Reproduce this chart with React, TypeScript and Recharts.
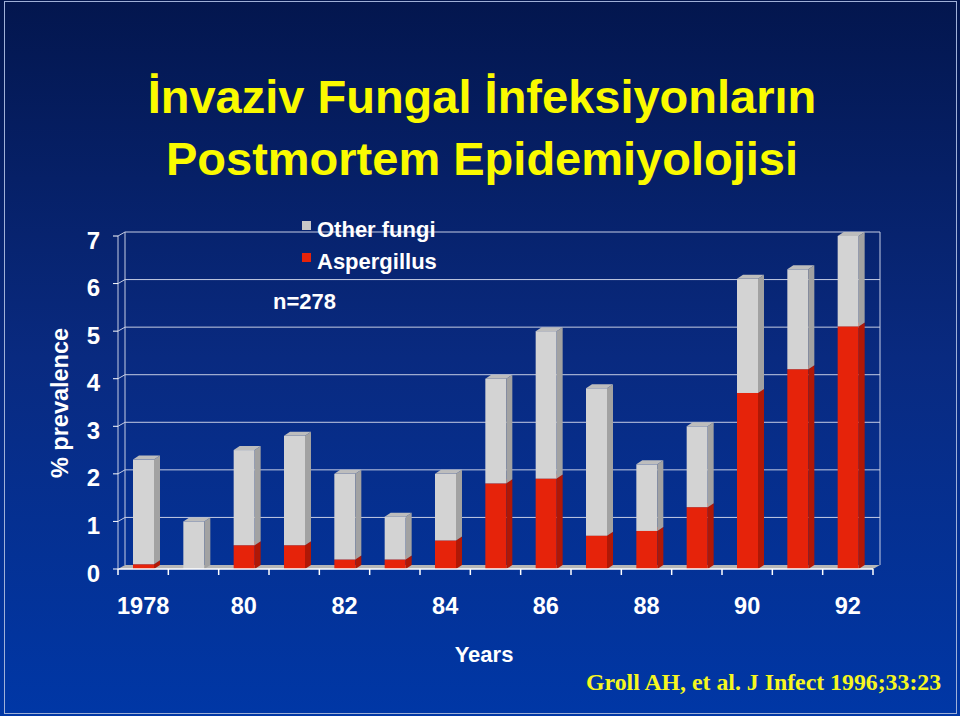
import { BarChart, Bar, XAxis, YAxis, CartesianGrid, Legend } from "recharts";

const years = ["1978", "79", "80", "81", "82", "83", "84", "85", "86", "87", "88", "89", "90", "91", "92"];
const aspergillus = [0.1, 0, 0.5, 0.5, 0.2, 0.2, 0.6, 1.8, 1.9, 0.7, 0.8, 1.3, 3.7, 4.2, 5.1];
const otherFungi = [2.2, 1.0, 2.0, 2.3, 1.8, 0.9, 1.4, 2.2, 3.1, 3.1, 1.4, 1.7, 2.4, 2.1, 1.9];
const yTicks = [0, 1, 2, 3, 4, 5, 6, 7];

const data = years.map((year, i) => ({
  year,
  aspergillus: aspergillus[i],
  other: otherFungi[i],
}));

const SANS = "'Liberation Sans', Arial, Helvetica, sans-serif";
const SERIF = "'Liberation Serif', 'Times New Roman', serif";
const LINE = "#c6cde4";

// depth of the fake 3d walls / bars
const DX = 7;
const DY = 4;

type Colors = { front: string; side: string; top: string };
const red: Colors = { front: "#e6230a", side: "#b01806", top: "#c81d08" };
const grey: Colors = { front: "#d3d3d3", side: "#a2a2a2", top: "#bdbdbd" };

function Bar3D(props: any) {
  const { x, y, width, height, colors } = props;
  if (!height || height <= 0) return null;
  const d = 6;
  return (
    <g>
      <rect x={x} y={y} width={width} height={height} fill={colors.front} />
      <polygon
        points={`${x + width},${y} ${x + width + d},${y - DY} ${x + width + d},${y + height - DY} ${x + width},${y + height}`}
        fill={colors.side}
      />
      <polygon
        points={`${x},${y} ${x + d},${y - DY} ${x + width + d},${y - DY} ${x + width},${y}`}
        fill={colors.top}
      />
    </g>
  );
}

function gridLine(props: any) {
  const { x1, y1, x2, index, x, y, width, height } = props;
  const bottom = y + height;
  const isFloor = Math.abs(y1 - bottom) < 0.5;
  const isTop = Math.abs(y1 - y) < 0.5;

  if (isFloor) {
    const step = width / years.length;
    return (
      <g key={`grid-${index}`}>
        <polygon
          points={`${x},${bottom} ${x + width},${bottom} ${x + width + DX},${bottom - DY} ${x + DX},${bottom - DY}`}
          fill="#b7b7b7"
        />
        {Array.from({ length: years.length + 1 }, (_, i) => (
          <line
            key={i}
            x1={x + i * step}
            x2={x + i * step}
            y1={bottom}
            y2={bottom + 6}
            stroke="#ffffff"
            strokeWidth={1.5}
          />
        ))}
      </g>
    );
  }

  return (
    <g key={`grid-${index}`}>
      <line x1={x1} y1={y1} x2={x1 + DX} y2={y1 - DY} stroke={LINE} />
      <line x1={x1 + DX} y1={y1 - DY} x2={x2 + DX} y2={y1 - DY} stroke={LINE} />
      {isTop && (
        <>
          <line x1={x + DX} y1={y1 - DY} x2={x + DX} y2={bottom - DY} stroke={LINE} />
          <line x1={x + width + DX} y1={y1 - DY} x2={x + width + DX} y2={bottom - DY} stroke={LINE} />
        </>
      )}
    </g>
  );
}

function YTick({ x, y, payload }: any) {
  return (
    <text
      x={x}
      y={y + 4}
      textAnchor="end"
      dominantBaseline="central"
      fill="#ffffff"
      fontSize={24}
      fontWeight="bold"
      fontFamily={SANS}
    >
      {payload.value}
    </text>
  );
}

function XTick({ x, y, payload }: any) {
  return (
    <text
      x={x}
      y={y + 29}
      textAnchor="middle"
      dominantBaseline="central"
      fill="#ffffff"
      fontSize={23.5}
      fontWeight="bold"
      fontFamily={SANS}
    >
      {payload.value}
    </text>
  );
}

function LegendContent({ payload }: any) {
  const items = [...(payload || [])].reverse();
  return (
    <div style={{ fontFamily: SANS, fontWeight: "bold", fontSize: 22, color: "#ffffff" }}>
      {items.map((item: any) => (
        <div key={item.value} style={{ display: "flex", alignItems: "flex-start", height: 32 }}>
          <span
            style={{
              display: "inline-block",
              width: 9,
              height: 9,
              marginTop: 7,
              marginRight: 6,
              background: item.color,
            }}
          />
          <span style={{ lineHeight: "32px" }}>{item.value}</span>
        </div>
      ))}
    </div>
  );
}

export default function App() {
  return (
    <div
      style={{
        position: "absolute",
        left: 0,
        top: 0,
        width: 960,
        height: 716,
        overflow: "hidden",
        background: "linear-gradient(to bottom, #03164e 0%, #092a80 50%, #0037a6 100%)",
      }}
    >
      <div
        style={{
          position: "absolute",
          left: 4,
          top: 1,
          width: 951,
          height: 711,
          border: "1px solid #9fb0d8",
        }}
      />
      <div
        style={{
          position: "absolute",
          left: 2,
          top: 66,
          width: 960,
          textAlign: "center",
          fontFamily: SANS,
          fontWeight: "bold",
          fontSize: 47,
          lineHeight: "62px",
          color: "#fafa00",
        }}
      >
        İnvaziv Fungal İnfeksiyonların
        <br />
        Postmortem Epidemiyolojisi
      </div>

      <div
        style={{
          position: "absolute",
          left: 60,
          top: 403,
          transform: "translate(-50%, -50%) rotate(-90deg)",
          whiteSpace: "nowrap",
          fontFamily: SANS,
          fontWeight: "bold",
          fontSize: 23.5,
          color: "#ffffff",
        }}
      >
        % prevalence
      </div>

      <div
        style={{
          position: "absolute",
          left: 273,
          top: 290,
          fontFamily: SANS,
          fontWeight: "bold",
          fontSize: 22,
          lineHeight: "24px",
          color: "#ffffff",
        }}
      >
        n=278
      </div>

      <div
        style={{
          position: "absolute",
          left: 484,
          top: 655,
          transform: "translate(-50%, -50%)",
          fontFamily: SANS,
          fontWeight: "bold",
          fontSize: 22,
          color: "#ffffff",
        }}
      >
        Years
      </div>

      <div
        style={{
          position: "absolute",
          left: 586,
          top: 682,
          transform: "translateY(-50%)",
          whiteSpace: "nowrap",
          fontFamily: SERIF,
          fontWeight: "bold",
          fontSize: 23.8,
          color: "#f6f620",
        }}
      >
        Groll AH, et al. J Infect 1996;33:23
      </div>

      <div style={{ position: "absolute", left: 0, top: 0 }}>
        <BarChart
          width={960}
          height={716}
          data={data}
          barSize={21}
          margin={{ top: 236, right: 87, bottom: 117, left: 78 }}
        >
          <CartesianGrid horizontal={gridLine} vertical={false} />
          <XAxis
            dataKey="year"
            interval={1}
            tickLine={false}
            axisLine={{ stroke: "#ffffff", strokeWidth: 1.5 }}
            tick={<XTick />}
            height={30}
          />
          <YAxis
            domain={[0, 7]}
            ticks={yTicks}
            width={40}
            tickSize={5}
            tickMargin={13}
            axisLine={{ stroke: LINE }}
            tickLine={{ stroke: "#ffffff" }}
            tick={<YTick />}
          />
          <Legend
            layout="vertical"
            align="center"
            verticalAlign="middle"
            content={<LegendContent />}
            wrapperStyle={{ left: 302, top: 214, width: 200, height: 70 }}
          />
          <Bar
            dataKey="aspergillus"
            name="Aspergillus"
            stackId="a"
            fill={red.front}
            isAnimationActive={false}
            shape={(p: any) => <Bar3D {...p} colors={red} />}
          />
          <Bar
            dataKey="other"
            name="Other fungi"
            stackId="a"
            fill="#c8c8c8"
            isAnimationActive={false}
            shape={(p: any) => <Bar3D {...p} colors={grey} />}
          />
        </BarChart>
      </div>
    </div>
  );
}
